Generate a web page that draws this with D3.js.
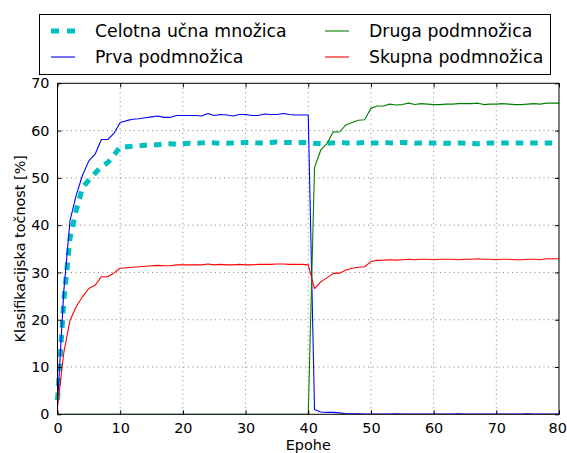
<!DOCTYPE html>
<html>
<head>
<meta charset="utf-8">
<script src="https://cdn.jsdelivr.net/npm/d3@7"></script>
<style>
  html, body { margin: 0; padding: 0; background: #fff; }
  svg { display: block; font-family: "DejaVu Sans", sans-serif; }
</style>
</head>
<body>
<svg id="chart" width="567" height="453"></svg>
<script>
// ---- data ----
const epochs = d3.range(0, 81);

const celotna = [3, 24, 37.3, 43.2, 48, 49.5, 51, 52.4, 53.2, 54.8,
  56.6, 56.6, 56.7, 56.8, 56.9, 57.0, 57.0, 57.2, 57.2, 57.1,
  57.2, 57.3, 57.3, 57.4, 57.5, 57.4, 57.3, 57.3, 57.4, 57.4,
  57.5, 57.5, 57.4, 57.4, 57.5, 57.6, 57.5, 57.5, 57.4, 57.5,
  57.5, 57.3, 57.2, 57.3, 57.4, 57.5, 57.4, 57.4, 57.4, 57.5,
  57.4, 57.4, 57.5, 57.4, 57.4, 57.5, 57.4, 57.3, 57.4, 57.4,
  57.4, 57.4, 57.3, 57.3, 57.4, 57.3, 57.3, 57.2, 57.2, 57.4,
  57.4, 57.4, 57.4, 57.4, 57.4, 57.4, 57.4, 57.4, 57.4, 57.4, 57.4];

const prva = [2, 26, 41, 46.4, 50.6, 53.6, 55.0, 58.1, 58.1, 59.4,
  61.7, 62.1, 62.4, 62.5, 62.7, 62.9, 63.1, 62.8, 62.8, 63.2,
  63.2, 63.2, 63.2, 63.1, 63.6, 63.2, 63.4, 63.3, 63.1, 63.4,
  63.4, 63.2, 63.2, 63.5, 63.4, 63.4, 63.6, 63.4, 63.3, 63.3,
  63.3, 1.0, 0.5, 0.4, 0.4, 0.3, 0.1, 0.1, 0.1, 0.05,
  0.05, 0.05, 0.05, 0.05, 0.1, 0.05, 0.05, 0.05, 0.05, 0.05,
  0.05, 0.05, 0.05, 0.05, 0.1, 0.05, 0.05, 0.05, 0.05, 0.05,
  0.05, 0.05, 0.05, 0.05, 0.05, 0.1, 0.05, 0.05, 0.05, 0.05, 0.05];

const druga = [0, 0, 0, 0, 0, 0, 0, 0, 0, 0,
  0, 0, 0, 0, 0, 0, 0, 0, 0, 0,
  0, 0, 0, 0, 0, 0, 0, 0, 0, 0,
  0, 0, 0, 0, 0, 0, 0, 0, 0, 0,
  0, 52.2, 55.9, 57.3, 59.75, 59.7, 61.2, 61.7, 62.2, 62.3,
  64.7, 65.2, 65.2, 65.6, 65.4, 65.5, 65.8, 65.5, 65.7, 65.6,
  65.5, 65.5, 65.6, 65.6, 65.7, 65.7, 65.7, 65.8, 65.5, 65.6,
  65.6, 65.7, 65.6, 65.5, 65.5, 65.6, 65.7, 65.6, 65.8, 65.8, 65.8];

const skupna = [1.6, 13, 19.9, 22.8, 24.9, 26.6, 27.3, 29.1, 29.1, 29.9,
  30.9, 31.0, 31.1, 31.2, 31.3, 31.4, 31.5, 31.4, 31.4, 31.6,
  31.6, 31.6, 31.6, 31.6, 31.8, 31.6, 31.7, 31.6, 31.6, 31.7,
  31.6, 31.6, 31.7, 31.7, 31.7, 31.8, 31.8, 31.7, 31.7, 31.7,
  31.6, 26.6, 28.0, 28.9, 29.8, 29.85, 30.5, 30.9, 31.1, 31.2,
  32.3, 32.55, 32.6, 32.7, 32.6, 32.7, 32.8, 32.7, 32.8, 32.8,
  32.7, 32.8, 32.8, 32.8, 32.7, 32.8, 32.8, 32.9, 32.8, 32.8,
  32.7, 32.8, 32.8, 32.7, 32.7, 32.8, 32.8, 32.7, 32.9, 32.9, 32.9];

const xTicks = [0, 10, 20, 30, 40, 50, 60, 70, 80];
const yTicks = [0, 10, 20, 30, 40, 50, 60, 70];

const seriesNames = ["Celotna učna množica", "Prva podmnožica", "Druga podmnožica", "Skupna podmnožica"];
const seriesColors = ["#00bfbf", "#0000ff", "#008000", "#ff0000"];

// ---- layout ----
const svg = d3.select("#chart");
const pL = 57.5, pR = 559, pT = 83.3, pB = 414.3;

const x = d3.scaleLinear().domain([0, 80]).range([pL, pR]);
const y = d3.scaleLinear().domain([0, 70]).range([pB, pT]);

svg.append("rect").attr("x", 0).attr("y", 0).attr("width", 567).attr("height", 453).attr("fill", "#fff");

// grid
const grid = svg.append("g");
grid.selectAll("line.gx").data(xTicks.slice(1, -1)).enter().append("line")
  .attr("x1", d => x(d)).attr("x2", d => x(d)).attr("y1", pT).attr("y2", pB)
  .attr("stroke", "#808080").attr("stroke-width", 1).attr("stroke-dasharray", "1,3.5");
grid.selectAll("line.gy").data(yTicks.slice(1, -1)).enter().append("line")
  .attr("y1", d => y(d)).attr("y2", d => y(d)).attr("x1", pL).attr("x2", pR)
  .attr("stroke", "#808080").attr("stroke-width", 1).attr("stroke-dasharray", "1,3.5");

// lines
const dataSets = [celotna, prva, druga, skupna];
const line = d3.line().x((d, i) => x(epochs[i])).y(d => y(d));
const plot = svg.append("g");
plot.append("clipPath").attr("id", "clip").append("rect")
  .attr("x", pL).attr("y", pT).attr("width", pR - pL).attr("height", pB - pT);

dataSets.forEach((ds, k) => {
  plot.append("path").datum(ds)
    .attr("d", line)
    .attr("fill", "none")
    .attr("stroke", seriesColors[k])
    .attr("stroke-width", k === 0 ? 5 : 1.1)
    .attr("stroke-dasharray", k === 0 ? "7.5,7" : null)
    .attr("stroke-linejoin", "round")
    .attr("clip-path", k === 0 ? null : "url(#clip)");
});

// axes (classic: ticks inside, all sides)
const axB = svg.append("g").attr("transform", `translate(0,${pB})`)
  .call(d3.axisBottom(x).tickValues(xTicks).tickSize(-4).tickPadding(8).tickFormat(d3.format("d")));
const axT = svg.append("g").attr("transform", `translate(0,${pT})`)
  .call(d3.axisTop(x).tickValues(xTicks).tickSize(-4).tickFormat(""));
const axL = svg.append("g").attr("transform", `translate(${pL},0)`)
  .call(d3.axisLeft(y).tickValues(yTicks).tickSize(-4).tickPadding(8).tickFormat(d3.format("d")));
const axR = svg.append("g").attr("transform", `translate(${pR},0)`)
  .call(d3.axisRight(y).tickValues(yTicks).tickSize(-4).tickFormat(""));

[axB, axT, axL, axR].forEach(a => {
  a.select(".domain").remove();
  a.selectAll(".tick line").attr("stroke", "#000").attr("stroke-width", 1);
  a.selectAll(".tick text").attr("fill", "#000").style("font-size", "14.4px").style("font-family", "DejaVu Sans");
});
// keep the last x label inside the page
axB.selectAll(".tick text").filter(d => d === 80).attr("dx", "-1.8");

svg.append("rect").attr("x", pL).attr("y", pT).attr("width", pR - pL).attr("height", pB - pT)
  .attr("fill", "none").attr("stroke", "#000").attr("stroke-width", 1);

// labels
svg.append("text").attr("x", (pL + pR) / 2).attr("y", 450)
  .attr("text-anchor", "middle").style("font-size", "14.4px").text("Epohe");
svg.append("text").attr("transform", `translate(25,${(pT + pB) / 2}) rotate(-90)`)
  .attr("text-anchor", "middle").style("font-size", "14.4px").text("Klasifikacijska točnost [%]");

// legend
const lg = svg.append("g");
lg.append("rect").attr("x", 39.5).attr("y", 14.5).attr("width", 511).attr("height", 60)
  .attr("fill", "#fff").attr("stroke", "#000").attr("stroke-width", 1);
const legPos = [[51, 31], [51, 57], [325, 31], [325, 57]];
seriesNames.forEach((name, k) => {
  const [lx, ly] = legPos[k];
  lg.append("line").attr("x1", lx).attr("x2", lx + 24).attr("y1", ly).attr("y2", ly)
    .attr("stroke", seriesColors[k]).attr("stroke-width", k === 0 ? 5 : 1.1)
    .attr("stroke-dasharray", k === 0 ? "8,8" : null);
  lg.append("text").attr("x", lx + 44).attr("y", ly).attr("dy", "0.35em")
    .style("font-size", "17.3px").attr("fill", "#000").text(name);
});
</script>
</body>
</html>
